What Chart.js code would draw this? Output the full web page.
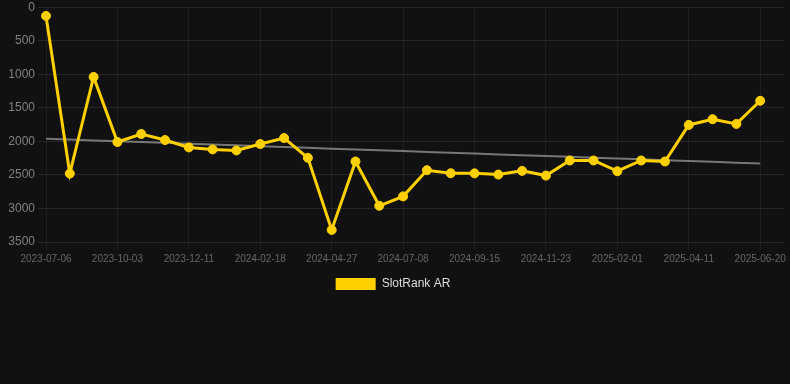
<!DOCTYPE html>
<html>
<head>
<meta charset="utf-8">
<script src="https://cdn.jsdelivr.net/npm/chart.js@4.4.1/dist/chart.umd.min.js"></script>
<style>
  html, body { margin: 0; padding: 0; background: #111111; }
  #wrap { width: 790px; height: 300px; position: relative; }
</style>
</head>
<body>
<div id="wrap"><canvas id="chart"></canvas></div>
<script>
// datos
const fechas = [
  "2023-07-06", "2023-08-05", "2023-09-04", "2023-10-03", "2023-10-26", "2023-11-18",
  "2023-12-11", "2024-01-03", "2024-01-26", "2024-02-18", "2024-03-12", "2024-04-04",
  "2024-04-27", "2024-05-21", "2024-06-14", "2024-07-08", "2024-07-31", "2024-08-23",
  "2024-09-15", "2024-10-08", "2024-10-31", "2024-11-23", "2024-12-16", "2025-01-08",
  "2025-02-01", "2025-02-24", "2025-03-19", "2025-04-11", "2025-05-04", "2025-05-27",
  "2025-06-20", "2025-07-13"
];

const ranking = [
  130, 2480, 1040, 2010, 1890, 1980, 2090, 2120, 2135, 2040,
  1950, 2245, 3320, 2300, 2960, 2820, 2430, 2475, 2477, 2495,
  2440, 2510, 2285, 2285, 2445, 2285, 2300, 1755, 1670, 1740,
  1395, null
];

const yTicks = [0, 500, 1000, 1500, 2000, 2500, 3000, 3500];

// tendencia (regresion lineal sobre los puntos)
function calcularTendencia(valores) {
  const pts = valores.map((v, i) => [i, v]).filter((p) => p[1] !== null);
  const n = pts.length;
  const mx = pts.reduce((s, p) => s + p[0], 0) / n;
  const my = pts.reduce((s, p) => s + p[1], 0) / n;
  let num = 0, den = 0;
  pts.forEach((p) => {
    num += (p[0] - mx) * (p[1] - my);
    den += (p[0] - mx) * (p[0] - mx);
  });
  const m = num / den;
  return valores.map((v, i) => (v === null ? null : my + m * (i - mx)));
}

const tendencia = calcularTendencia(ranking);

Chart.defaults.font.family = "'Liberation Sans', Arial, sans-serif";

new Chart(document.getElementById("chart"), {
  type: "line",
  data: {
    labels: fechas,
    datasets: [
      {
        label: "SlotRank AR",
        data: ranking,
        borderColor: "#ffd000",
        backgroundColor: "#ffd000",
        borderWidth: 3,
        pointRadius: 4.5,
        pointBorderWidth: 1,
        pointHoverRadius: 5,
        pointBackgroundColor: "#ffd000",
        pointBorderColor: "#ffd000",
        tension: 0,
      },
      {
        label: "trend",
        data: tendencia,
        borderColor: "#777777",
        borderWidth: 2,
        pointRadius: 0,
        fill: false,
      },
    ],
  },
  options: {
    responsive: true,
    maintainAspectRatio: false,
    animation: false,
    layout: { padding: { left: 0, right: 4, top: 0, bottom: 0 } },
    plugins: {
      legend: {
        position: "bottom",
        labels: {
          color: "#dddddd",
          font: { size: 12 },
          boxWidth: 40,
          boxHeight: 12,
          filter: (item) => item.text !== "trend",
          generateLabels: (chart) =>
            Chart.defaults.plugins.legend.labels
              .generateLabels(chart)
              .map((item) => ({ ...item, lineWidth: 0 })),
        },
      },
      tooltip: { enabled: false },
    },
    scales: {
      x: {
        ticks: {
          autoSkip: false,
          maxRotation: 0,
          color: "#666666",
          font: { size: 10 },
          callback: function (val, i) {
            return i % 3 === 0 && i < 31 ? this.getLabelForValue(val) : null;
          },
        },
        grid: { color: "#1e1e1e" },
        border: { display: false },
      },
      y: {
        reverse: true,
        min: yTicks[0],
        max: yTicks[yTicks.length - 1],
        afterBuildTicks: (axis) => {
          axis.ticks = yTicks.map((v) => ({ value: v }));
        },
        afterFit: (axis) => {
          axis.width = 46;
        },
        ticks: {
          color: "#808080",
          font: { size: 12, lineHeight: 0.7 },
          callback: (v) => String(v),
        },
        grid: { color: "#262626" },
        border: { display: false },
      },
    },
  },
});
</script>
</body>
</html>
